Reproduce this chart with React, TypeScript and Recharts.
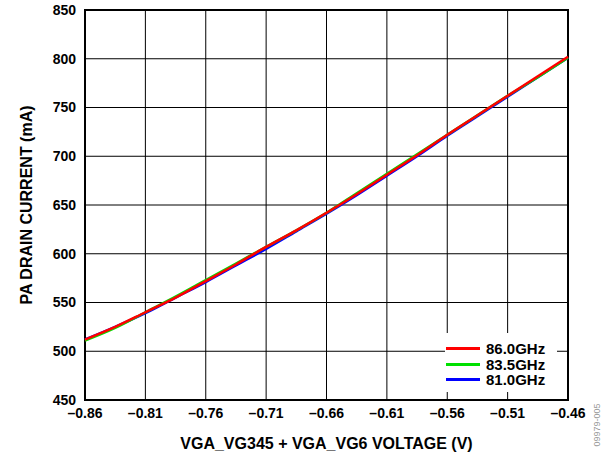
import { CartesianGrid, Line, LineChart, ReferenceArea, XAxis, YAxis } from "recharts";

const voltage = [-0.86, -0.835, -0.81, -0.785, -0.76, -0.735, -0.71, -0.685, -0.66, -0.635, -0.61, -0.585, -0.56, -0.535, -0.51, -0.485, -0.46];
const current86 = [512, 525, 540, 555, 572, 589, 607, 624, 642, 661, 681, 701, 722, 742, 762, 782, 802];
const current835 = [511, 524, 540, 556, 573, 590, 607, 624, 642, 662, 682, 702, 722, 742, 762, 781, 801];
const current81 = [512, 525, 539, 555, 571, 588, 605, 623, 641, 660, 680, 700, 721, 741, 761, 781, 801];

const xTicks = [-0.86, -0.81, -0.76, -0.71, -0.66, -0.61, -0.56, -0.51, -0.46];
const yTicks = [450, 500, 550, 600, 650, 700, 750, 800, 850];

const seriesNames = ["86.0GHz", "83.5GHz", "81.0GHz"];
const seriesColors = ["#ff0000", "#00e000", "#0000ff"];

const data = voltage.map((v, i) => ({
    v,
    a: current86[i],
    b: current835[i],
    c: current81[i],
}));

const font = "Arial, 'Liberation Sans', sans-serif";

const fmt = (n: number) => (n < 0 ? "\u2013" + Math.abs(n).toFixed(2) : n.toFixed(2));

// legend drawn as a plain white box over the plot, like the datasheet figure
const LegendBox = () => (
    <div style={{ position: "absolute", left: 445, top: 333, width: 112, height: 59, background: "#fff", paddingTop: 8, boxSizing: "border-box", fontFamily: font, fontWeight: "bold", fontSize: 15 }}>
        {seriesNames.map((name, i) => (
            <div key={name} style={{ display: "flex", alignItems: "center", height: 15.5 }}>
                <div style={{ width: 34, height: 3, background: seriesColors[i], marginLeft: 1, marginRight: 6 }} />
                <span style={{ color: "#000", lineHeight: "15px" }}>{name}</span>
            </div>
        ))}
    </div>
);

export default function App() {
    return (
        <div style={{ position: "absolute", left: 0, top: 0, width: 608, height: 457, background: "#fff" }}>
            <LineChart width={608} height={457} data={data} margin={{ top: 10, right: 40, bottom: 0, left: 0 }}>
                <CartesianGrid stroke="#000" strokeWidth={1} horizontalValues={yTicks} verticalValues={xTicks} />
                <XAxis
                    dataKey="v"
                    type="number"
                    domain={[-0.86, -0.46]}
                    ticks={xTicks}
                    tickFormatter={fmt}
                    height={57}
                    tickLine={false}
                    axisLine={false}
                    tick={{ fill: "#000", fontFamily: font, fontWeight: "bold", fontSize: 14 }}
                    tickMargin={2}
                    label={{ value: "VGA_VG345 + VGA_VG6 VOLTAGE (V)", position: "insideBottom", offset: 8, fill: "#000", fontFamily: font, fontWeight: "bold", fontSize: 16 }}
                />
                <YAxis
                    type="number"
                    domain={[450, 850]}
                    ticks={yTicks}
                    width={85}
                    tickLine={false}
                    axisLine={false}
                    tick={{ fill: "#000", fontFamily: font, fontWeight: "bold", fontSize: 14 }}
                    tickMargin={3}
                    label={{ value: "PA DRAIN CURRENT (mA)", angle: -90, position: "insideLeft", offset: 26, style: { textAnchor: "middle" }, fill: "#000", fontFamily: font, fontWeight: "bold", fontSize: 16 }}
                />
                <ReferenceArea x1={-0.86} x2={-0.46} y1={450} y2={850} fill="none" stroke="#000" strokeWidth={2} ifOverflow="visible" />
                <Line dataKey="c" stroke={seriesColors[2]} strokeWidth={2.5} dot={false} type="monotone" isAnimationActive={false} />
                <Line dataKey="b" stroke={seriesColors[1]} strokeWidth={2.5} dot={false} type="monotone" isAnimationActive={false} />
                <Line dataKey="a" stroke={seriesColors[0]} strokeWidth={2.5} dot={false} type="monotone" isAnimationActive={false} />
            </LineChart>
            <LegendBox />
            <div style={{ position: "absolute", left: 597, top: 425, transform: "translate(-50%, -50%) rotate(-90deg)", fontFamily: font, fontSize: 9, color: "#999", whiteSpace: "nowrap" }}>
                09979-005
            </div>
        </div>
    );
}
